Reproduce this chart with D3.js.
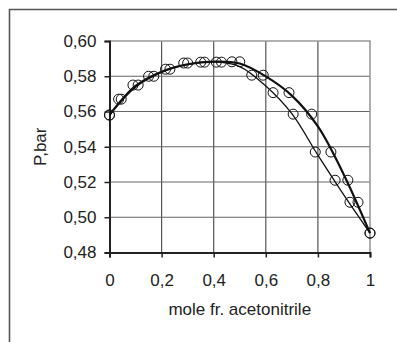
<!DOCTYPE html>
<html>
<head>
<meta charset="utf-8">
<script src="https://cdn.jsdelivr.net/npm/d3@7"></script>
<style>
  html, body { margin: 0; padding: 0; background: #fff; }
  svg { display: block; }
  text { font-family: "Liberation Sans", Arial, sans-serif; fill: #222; }
</style>
</head>
<body>
<svg id="chart" width="397" height="342"></svg>
<script>
// Experimental points: pressure with liquid and vapour mole fractions
const pressure = [0.558, 0.567, 0.575, 0.580, 0.584, 0.5875, 0.588, 0.588, 0.5882,
                  0.5806, 0.5707, 0.5585, 0.537, 0.521, 0.5085, 0.491];
const liquidX  = [0, 0.035, 0.09, 0.15, 0.215, 0.285, 0.35, 0.41, 0.47,
                  0.59, 0.689, 0.776, 0.85, 0.915, 0.954, 1];
const vapourY  = [0, 0.045, 0.11, 0.17, 0.232, 0.30, 0.365, 0.43, 0.50,
                  0.546, 0.628, 0.705, 0.79, 0.866, 0.923, 1];

// Calculated bubble and dew curves
const curveX     = [0, 0.1, 0.2, 0.3, 0.4, 0.5, 0.6, 0.7, 0.8, 0.9, 1];
const bubbleCalc = [0.558, 0.5745, 0.5826, 0.5868, 0.5883, 0.5872, 0.5799, 0.5690, 0.5515, 0.5240, 0.491];
const dewCalc    = [0.558, 0.5738, 0.5822, 0.5866, 0.5881, 0.5855, 0.5745, 0.5588, 0.5352, 0.5125, 0.491];

const xTicks = [0, 0.2, 0.4, 0.6, 0.8, 1];
const yTicks = [0.48, 0.50, 0.52, 0.54, 0.56, 0.58, 0.60];

const svg = d3.select("#chart");
const fmtX = d => d === 0 ? "0" : d === 1 ? "1" : d3.format(".1f")(d).replace(".", ",");
const fmtY = d => d3.format(".2f")(d).replace(".", ",");

// outer frame (top and left edges)
svg.append("path")
  .attr("d", "M9.5,342 L9.5,9.5 L397,9.5")
  .attr("fill", "none").attr("stroke", "#555").attr("stroke-width", 1.6);

const x = d3.scaleLinear().domain([0, 1]).range([109.5, 370]);
const y = d3.scaleLinear().domain([0.48, 0.60]).range([252.5, 41]);

const g = svg.append("g");

// grid
g.selectAll(".vgrid").data(xTicks.slice(1, -1)).join("line")
  .attr("x1", d => x(d)).attr("x2", d => x(d))
  .attr("y1", y(0.60)).attr("y2", y(0.48))
  .attr("stroke", "#555").attr("stroke-width", 1.2);
g.selectAll(".hgrid").data(yTicks.slice(1, -1)).join("line")
  .attr("x1", x(0)).attr("x2", x(1))
  .attr("y1", d => y(d)).attr("y2", d => y(d))
  .attr("stroke", "#666").attr("stroke-width", 1.2);
// plot border top / right
g.append("path")
  .attr("d", `M${x(0)},${y(0.60)} L${x(1)},${y(0.60)} L${x(1)},${y(0.48)}`)
  .attr("fill", "none").attr("stroke", "#999").attr("stroke-width", 1.6);

// axes
const xAxis = d3.axisBottom(x).tickValues(xTicks).tickFormat(fmtX).tickSizeOuter(0).tickSize(5).tickPadding(16);
const yAxis = d3.axisLeft(y).tickValues(yTicks).tickFormat(fmtY).tickSizeOuter(0).tickSize(5).tickPadding(8);

const gx = g.append("g").attr("transform", `translate(0,${y(0.48)})`).call(xAxis);
const gy = g.append("g").attr("transform", `translate(${x(0)},0)`).call(yAxis);
[gx, gy].forEach(a => {
  a.select(".domain").attr("stroke", "#222").attr("stroke-width", 2);
  a.selectAll(".tick line").attr("stroke", "#222").attr("stroke-width", 1.5);
  a.selectAll(".tick text").attr("font-size", 17).attr("fill", "#222")
    .attr("font-family", "Liberation Sans, Arial, sans-serif");
});

// calculated curves
const line = d3.line().x(d => x(d[0])).y(d => y(d[1])).curve(d3.curveCatmullRom);
g.append("path").datum(curveX.map((v, i) => [v, dewCalc[i]]))
  .attr("d", line).attr("fill", "none").attr("stroke", "#111").attr("stroke-width", 1.3);
g.append("path").datum(curveX.map((v, i) => [v, bubbleCalc[i]]))
  .attr("d", line).attr("fill", "none").attr("stroke", "#111").attr("stroke-width", 2.2);

// experimental points
const pts = pressure.flatMap((p, i) => [[liquidX[i], p], [vapourY[i], p]]);
g.selectAll(".pt").data(pts).join("circle")
  .attr("cx", d => x(d[0])).attr("cy", d => y(d[1])).attr("r", 5)
  .attr("fill", "none").attr("stroke", "#111").attr("stroke-width", 1);

// axis titles
svg.append("text")
  .attr("x", (x(0) + x(1)) / 2).attr("y", 315)
  .attr("text-anchor", "middle").attr("font-size", 17)
  .text("mole fr. acetonitrile");
svg.append("text")
  .attr("transform", `translate(46,${(y(0.48) + y(0.60)) / 2}) rotate(-90)`)
  .attr("text-anchor", "middle").attr("font-size", 17)
  .text("P,bar");
</script>
</body>
</html>
